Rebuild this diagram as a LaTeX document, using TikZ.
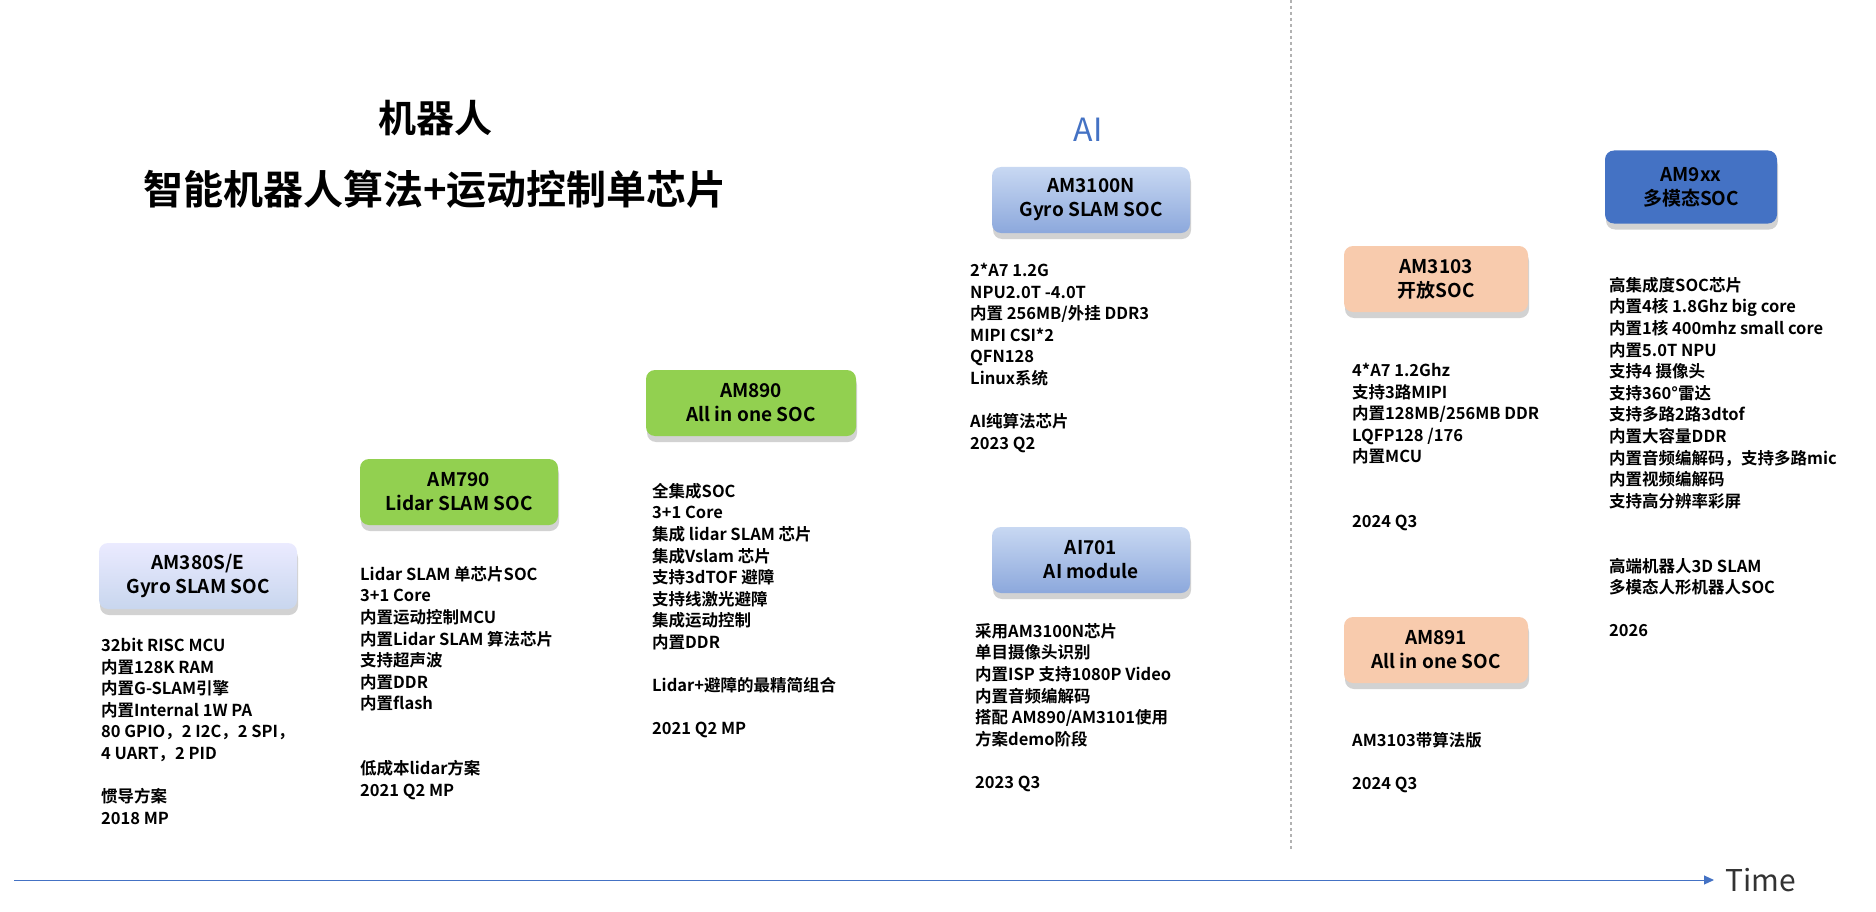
\documentclass[tikz,border=0pt]{standalone}
\usepackage{fontspec}
\setmainfont{Noto Sans CJK SC}[BoldFont={* Bold}]
\usetikzlibrary{shadows,arrows.meta}
\definecolor{axisblue}{HTML}{4472C4}
\definecolor{peach}{HTML}{F8CBAD}
\definecolor{leaf}{HTML}{92D050}
\tikzset{
  chip/.style={rounded corners=9pt, minimum width=#1, minimum height=66pt, align=center,
     font=\bfseries\fontsize{19}{24}\selectfont, inner sep=0pt,
     drop shadow={opacity=0.35, shadow xshift=1pt, shadow yshift=-6pt, fill=gray}},
  chip/.default=198pt,
  spec/.style={anchor=north west, align=left, inner sep=0pt,
     font=\bfseries\fontsize{16.5}{21.6}\selectfont},
}
\begin{document}
\begin{tikzpicture}[x=1pt,y=-1pt]
\useasboundingbox (0,0) rectangle (1876,912);
\fill[white] (0,0) rectangle (1876,912);
% title
\node (t1) at (435,118) {\bfseries\fontsize{38}{44}\selectfont 机器人};
\node (t2) at (435,189) {\bfseries\fontsize{40}{46}\selectfont 智能机器人算法+运动控制单芯片};
\node[text=axisblue] (ai) at (1088,130) {\fontsize{32}{38}\selectfont AI};
% divider
\draw[gray!60, dashed, line width=1.2pt, dash pattern=on 3pt off 3pt] (1291,0) -- (1291,850);
% axis
\coordinate (a0) at (14,880);
\coordinate (a1) at (1714,880);
\draw[axisblue, line width=1pt, -{Triangle[length=10pt,width=9pt]}] (a0) -- (a1);
\node[anchor=west, text=black!80] (time) at (1722,880) {\fontsize{30}{34}\selectfont Time};
% chips
\node[chip, shade, top color=blue!8!white, bottom color={rgb,255:red,200;green,214;blue,238}] (c380) at (198,576) {AM380S/E\\Gyro SLAM SOC};
\node[chip, fill=leaf] (c790) at (459,492) {AM790\\Lidar SLAM SOC};
\node[chip=210pt, fill=leaf] (c890) at (751,403) {AM890\\All in one SOC};
\node[chip, shade, top color={rgb,255:red,200;green,216;blue,242}, bottom color={rgb,255:red,140;green,168;blue,220}] (c3100) at (1091,200) {AM3100N\\Gyro SLAM SOC};
\node[chip, shade, top color={rgb,255:red,200;green,216;blue,242}, bottom color={rgb,255:red,140;green,168;blue,220}] (c701) at (1091,560) {AI701\\AI module};
\node[chip=184pt, fill=peach] (c3103) at (1436,279) {AM3103\\开放SOC};
\node[chip=184pt, fill=peach] (c891) at (1436,650) {AM891\\All in one SOC};
\node[chip=172pt, fill=axisblue, minimum height=73pt] (c9xx) at (1691,187) {AM9xx\\多模态SOC};
% specs
\node[spec] (s380) at (101,638) {32bit RISC MCU\\内置128K RAM\\内置G-SLAM引擎\\内置Internal 1W PA\\80 GPIO，2 I2C，2 SPI，\\4 UART，2 PID\\~\\惯导方案\\2018 MP};
\node[spec] (s790) at (360,566) {Lidar SLAM 单芯片SOC\\3+1 Core\\内置运动控制MCU\\内置Lidar SLAM 算法芯片\\支持超声波\\内置DDR\\内置flash\\~\\~\\低成本lidar方案\\2021 Q2 MP};
\node[spec] (s890) at (652,483) {全集成SOC\\3+1 Core\\集成 lidar SLAM 芯片\\集成Vslam 芯片\\支持3dTOF 避障\\支持线激光避障\\集成运动控制\\内置DDR\\~\\Lidar+避障的最精简组合\\~\\2021 Q2 MP};
\node[spec] (s3100) at (970,263) {2*A7 1.2G\\NPU2.0T -4.0T\\内置 256MB/外挂 DDR3\\MIPI CSI*2\\QFN128\\Linux系统\\~\\AI纯算法芯片\\2023 Q2};
\node[spec] (s701) at (975,623) {采用AM3100N芯片\\单目摄像头识别\\内置ISP 支持1080P Video\\内置音频编解码\\搭配 AM890/AM3101使用\\方案demo阶段\\~\\2023 Q3};
\node[spec] (s3103) at (1352,363) {4*A7 1.2Ghz\\支持3路MIPI\\内置128MB/256MB DDR\\LQFP128 /176\\内置MCU\\~\\~\\2024 Q3};
\node[spec] (s891) at (1352,732) {AM3103带算法版\\~\\2024 Q3};
\node[spec] (s9xx) at (1609,277) {高集成度SOC芯片\\内置4核 1.8Ghz big core\\内置1核 400mhz small core\\内置5.0T NPU\\支持4 摄像头\\支持360°雷达\\支持多路2路3dtof\\内置大容量DDR\\内置音频编解码，支持多路mic\\内置视频编解码\\支持高分辨率彩屏\\~\\~\\高端机器人3D SLAM\\多模态人形机器人SOC\\~\\2026};
\end{tikzpicture}
\end{document}
